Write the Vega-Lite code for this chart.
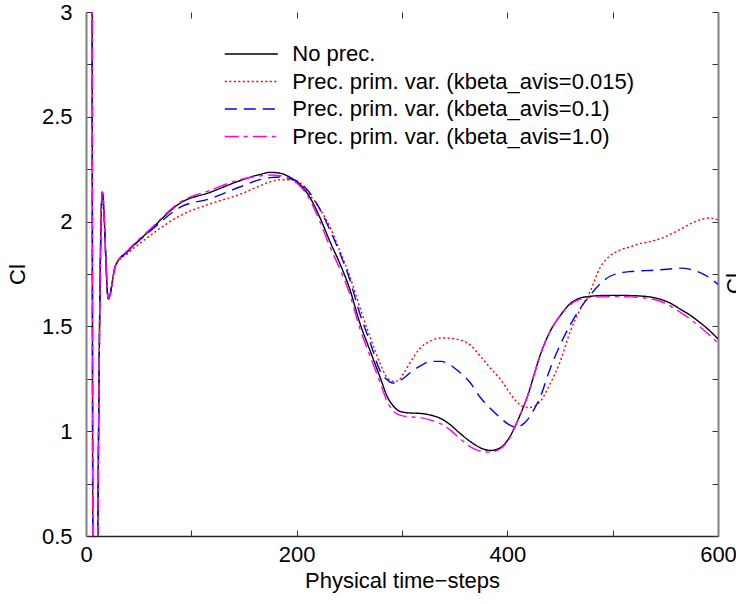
{
  "$schema": "https://vega.github.io/schema/vega-lite/v6.json",
  "width": 632,
  "height": 524,
  "autosize": {"type": "none"},
  "padding": {"left": 86, "top": 12, "right": 18, "bottom": 68},
  "background": "white",
  "config": {
    "view": {"stroke": null},
    "font": "Liberation Sans",
    "axis": {"grid": false, "labelFont": "Liberation Sans", "titleFont": "Liberation Sans", "labelFontSize": 22, "titleFontSize": 22, "titleFontWeight": "normal", "labelColor": "#000", "titleColor": "#000", "tickColor": "#333", "tickWidth": 1, "tickSize": -6, "labelPadding": 14, "labelFlush": false}
  },
  "datasets": {
    "curves": [
      {"s":"No prec.","x":5.8,"y":3.5},{"s":"No prec.","x":6.6,"y":0.2},{"s":"No prec.","x":10.8,"y":0.2},{"s":"No prec.","x":11.2,"y":0.5},{"s":"No prec.","x":15.5,"y":2.14},{"s":"No prec.","x":21.2,"y":1.63},{"s":"No prec.","x":28,"y":1.79},{"s":"No prec.","x":40,"y":1.86},{"s":"No prec.","x":60,"y":1.955},{"s":"No prec.","x":90,"y":2.09},{"s":"No prec.","x":118,"y":2.14},{"s":"No prec.","x":146,"y":2.195},{"s":"No prec.","x":165,"y":2.225},{"s":"No prec.","x":175,"y":2.235},{"s":"No prec.","x":185,"y":2.23},{"s":"No prec.","x":194,"y":2.21},{"s":"No prec.","x":203,"y":2.178},{"s":"No prec.","x":212,"y":2.12},{"s":"No prec.","x":222,"y":2.02},{"s":"No prec.","x":232,"y":1.9},{"s":"No prec.","x":241,"y":1.8},{"s":"No prec.","x":250,"y":1.684},{"s":"No prec.","x":260,"y":1.516},{"s":"No prec.","x":270,"y":1.38},{"s":"No prec.","x":279,"y":1.26},{"s":"No prec.","x":286,"y":1.165},{"s":"No prec.","x":291,"y":1.125},{"s":"No prec.","x":296,"y":1.1},{"s":"No prec.","x":302,"y":1.09},{"s":"No prec.","x":308,"y":1.087},{"s":"No prec.","x":317,"y":1.085},{"s":"No prec.","x":327,"y":1.077},{"s":"No prec.","x":337,"y":1.06},{"s":"No prec.","x":346,"y":1.03},{"s":"No prec.","x":355,"y":0.99},{"s":"No prec.","x":365,"y":0.95},{"s":"No prec.","x":374,"y":0.922},{"s":"No prec.","x":384,"y":0.908},{"s":"No prec.","x":393,"y":0.92},{"s":"No prec.","x":402,"y":0.97},{"s":"No prec.","x":408,"y":1.03},{"s":"No prec.","x":414,"y":1.1},{"s":"No prec.","x":420,"y":1.18},{"s":"No prec.","x":426,"y":1.28},{"s":"No prec.","x":431,"y":1.36},{"s":"No prec.","x":440,"y":1.47},{"s":"No prec.","x":450,"y":1.55},{"s":"No prec.","x":460,"y":1.61},{"s":"No prec.","x":469,"y":1.635},{"s":"No prec.","x":478,"y":1.643},{"s":"No prec.","x":488,"y":1.647},{"s":"No prec.","x":497,"y":1.648},{"s":"No prec.","x":507,"y":1.648},{"s":"No prec.","x":517,"y":1.647},{"s":"No prec.","x":526,"y":1.645},{"s":"No prec.","x":536,"y":1.64},{"s":"No prec.","x":545,"y":1.63},{"s":"No prec.","x":555,"y":1.61},{"s":"No prec.","x":564,"y":1.583},{"s":"No prec.","x":574,"y":1.552},{"s":"No prec.","x":583,"y":1.518},{"s":"No prec.","x":592,"y":1.48},{"s":"No prec.","x":600,"y":1.44},

      {"s":"Prec. prim. var. (kbeta_avis=0.015)","x":5.8,"y":3.5},{"s":"Prec. prim. var. (kbeta_avis=0.015)","x":6.6,"y":0.2},{"s":"Prec. prim. var. (kbeta_avis=0.015)","x":10.8,"y":0.2},{"s":"Prec. prim. var. (kbeta_avis=0.015)","x":11.2,"y":0.5},{"s":"Prec. prim. var. (kbeta_avis=0.015)","x":15.5,"y":2.14},{"s":"Prec. prim. var. (kbeta_avis=0.015)","x":21.2,"y":1.63},{"s":"Prec. prim. var. (kbeta_avis=0.015)","x":28,"y":1.79},{"s":"Prec. prim. var. (kbeta_avis=0.015)","x":40,"y":1.85},{"s":"Prec. prim. var. (kbeta_avis=0.015)","x":60,"y":1.93},{"s":"Prec. prim. var. (kbeta_avis=0.015)","x":90,"y":2.03},{"s":"Prec. prim. var. (kbeta_avis=0.015)","x":118,"y":2.085},{"s":"Prec. prim. var. (kbeta_avis=0.015)","x":146,"y":2.13},{"s":"Prec. prim. var. (kbeta_avis=0.015)","x":165,"y":2.17},{"s":"Prec. prim. var. (kbeta_avis=0.015)","x":175,"y":2.19},{"s":"Prec. prim. var. (kbeta_avis=0.015)","x":185,"y":2.2},{"s":"Prec. prim. var. (kbeta_avis=0.015)","x":194,"y":2.2},{"s":"Prec. prim. var. (kbeta_avis=0.015)","x":203,"y":2.185},{"s":"Prec. prim. var. (kbeta_avis=0.015)","x":212,"y":2.13},{"s":"Prec. prim. var. (kbeta_avis=0.015)","x":222,"y":2.06},{"s":"Prec. prim. var. (kbeta_avis=0.015)","x":232,"y":1.97},{"s":"Prec. prim. var. (kbeta_avis=0.015)","x":241,"y":1.86},{"s":"Prec. prim. var. (kbeta_avis=0.015)","x":250,"y":1.745},{"s":"Prec. prim. var. (kbeta_avis=0.015)","x":260,"y":1.59},{"s":"Prec. prim. var. (kbeta_avis=0.015)","x":270,"y":1.445},{"s":"Prec. prim. var. (kbeta_avis=0.015)","x":279,"y":1.325},{"s":"Prec. prim. var. (kbeta_avis=0.015)","x":286,"y":1.255},{"s":"Prec. prim. var. (kbeta_avis=0.015)","x":291,"y":1.238},{"s":"Prec. prim. var. (kbeta_avis=0.015)","x":296,"y":1.24},{"s":"Prec. prim. var. (kbeta_avis=0.015)","x":302,"y":1.28},{"s":"Prec. prim. var. (kbeta_avis=0.015)","x":308,"y":1.33},{"s":"Prec. prim. var. (kbeta_avis=0.015)","x":317,"y":1.395},{"s":"Prec. prim. var. (kbeta_avis=0.015)","x":327,"y":1.43},{"s":"Prec. prim. var. (kbeta_avis=0.015)","x":337,"y":1.445},{"s":"Prec. prim. var. (kbeta_avis=0.015)","x":346,"y":1.443},{"s":"Prec. prim. var. (kbeta_avis=0.015)","x":355,"y":1.435},{"s":"Prec. prim. var. (kbeta_avis=0.015)","x":365,"y":1.41},{"s":"Prec. prim. var. (kbeta_avis=0.015)","x":374,"y":1.36},{"s":"Prec. prim. var. (kbeta_avis=0.015)","x":384,"y":1.3},{"s":"Prec. prim. var. (kbeta_avis=0.015)","x":393,"y":1.25},{"s":"Prec. prim. var. (kbeta_avis=0.015)","x":402,"y":1.185},{"s":"Prec. prim. var. (kbeta_avis=0.015)","x":408,"y":1.145},{"s":"Prec. prim. var. (kbeta_avis=0.015)","x":414,"y":1.12},{"s":"Prec. prim. var. (kbeta_avis=0.015)","x":420,"y":1.113},{"s":"Prec. prim. var. (kbeta_avis=0.015)","x":426,"y":1.12},{"s":"Prec. prim. var. (kbeta_avis=0.015)","x":431,"y":1.14},{"s":"Prec. prim. var. (kbeta_avis=0.015)","x":440,"y":1.22},{"s":"Prec. prim. var. (kbeta_avis=0.015)","x":450,"y":1.33},{"s":"Prec. prim. var. (kbeta_avis=0.015)","x":460,"y":1.48},{"s":"Prec. prim. var. (kbeta_avis=0.015)","x":469,"y":1.58},{"s":"Prec. prim. var. (kbeta_avis=0.015)","x":478,"y":1.66},{"s":"Prec. prim. var. (kbeta_avis=0.015)","x":488,"y":1.78},{"s":"Prec. prim. var. (kbeta_avis=0.015)","x":497,"y":1.835},{"s":"Prec. prim. var. (kbeta_avis=0.015)","x":507,"y":1.864},{"s":"Prec. prim. var. (kbeta_avis=0.015)","x":517,"y":1.88},{"s":"Prec. prim. var. (kbeta_avis=0.015)","x":526,"y":1.895},{"s":"Prec. prim. var. (kbeta_avis=0.015)","x":536,"y":1.905},{"s":"Prec. prim. var. (kbeta_avis=0.015)","x":545,"y":1.918},{"s":"Prec. prim. var. (kbeta_avis=0.015)","x":555,"y":1.94},{"s":"Prec. prim. var. (kbeta_avis=0.015)","x":564,"y":1.963},{"s":"Prec. prim. var. (kbeta_avis=0.015)","x":574,"y":1.99},{"s":"Prec. prim. var. (kbeta_avis=0.015)","x":583,"y":2.008},{"s":"Prec. prim. var. (kbeta_avis=0.015)","x":592,"y":2.017},{"s":"Prec. prim. var. (kbeta_avis=0.015)","x":600,"y":2.008},

      {"s":"Prec. prim. var. (kbeta_avis=0.1)","x":5.8,"y":3.5},{"s":"Prec. prim. var. (kbeta_avis=0.1)","x":6.6,"y":0.2},{"s":"Prec. prim. var. (kbeta_avis=0.1)","x":10.8,"y":0.2},{"s":"Prec. prim. var. (kbeta_avis=0.1)","x":11.2,"y":0.5},{"s":"Prec. prim. var. (kbeta_avis=0.1)","x":15.5,"y":2.14},{"s":"Prec. prim. var. (kbeta_avis=0.1)","x":21.2,"y":1.63},{"s":"Prec. prim. var. (kbeta_avis=0.1)","x":28,"y":1.79},{"s":"Prec. prim. var. (kbeta_avis=0.1)","x":40,"y":1.86},{"s":"Prec. prim. var. (kbeta_avis=0.1)","x":60,"y":1.95},{"s":"Prec. prim. var. (kbeta_avis=0.1)","x":90,"y":2.07},{"s":"Prec. prim. var. (kbeta_avis=0.1)","x":118,"y":2.11},{"s":"Prec. prim. var. (kbeta_avis=0.1)","x":146,"y":2.165},{"s":"Prec. prim. var. (kbeta_avis=0.1)","x":165,"y":2.2},{"s":"Prec. prim. var. (kbeta_avis=0.1)","x":175,"y":2.21},{"s":"Prec. prim. var. (kbeta_avis=0.1)","x":185,"y":2.213},{"s":"Prec. prim. var. (kbeta_avis=0.1)","x":194,"y":2.205},{"s":"Prec. prim. var. (kbeta_avis=0.1)","x":203,"y":2.185},{"s":"Prec. prim. var. (kbeta_avis=0.1)","x":212,"y":2.14},{"s":"Prec. prim. var. (kbeta_avis=0.1)","x":222,"y":2.06},{"s":"Prec. prim. var. (kbeta_avis=0.1)","x":232,"y":1.955},{"s":"Prec. prim. var. (kbeta_avis=0.1)","x":241,"y":1.85},{"s":"Prec. prim. var. (kbeta_avis=0.1)","x":250,"y":1.73},{"s":"Prec. prim. var. (kbeta_avis=0.1)","x":260,"y":1.56},{"s":"Prec. prim. var. (kbeta_avis=0.1)","x":270,"y":1.42},{"s":"Prec. prim. var. (kbeta_avis=0.1)","x":279,"y":1.29},{"s":"Prec. prim. var. (kbeta_avis=0.1)","x":286,"y":1.245},{"s":"Prec. prim. var. (kbeta_avis=0.1)","x":291,"y":1.23},{"s":"Prec. prim. var. (kbeta_avis=0.1)","x":296,"y":1.236},{"s":"Prec. prim. var. (kbeta_avis=0.1)","x":302,"y":1.255},{"s":"Prec. prim. var. (kbeta_avis=0.1)","x":308,"y":1.28},{"s":"Prec. prim. var. (kbeta_avis=0.1)","x":317,"y":1.31},{"s":"Prec. prim. var. (kbeta_avis=0.1)","x":327,"y":1.333},{"s":"Prec. prim. var. (kbeta_avis=0.1)","x":337,"y":1.333},{"s":"Prec. prim. var. (kbeta_avis=0.1)","x":346,"y":1.315},{"s":"Prec. prim. var. (kbeta_avis=0.1)","x":355,"y":1.28},{"s":"Prec. prim. var. (kbeta_avis=0.1)","x":365,"y":1.23},{"s":"Prec. prim. var. (kbeta_avis=0.1)","x":374,"y":1.163},{"s":"Prec. prim. var. (kbeta_avis=0.1)","x":384,"y":1.108},{"s":"Prec. prim. var. (kbeta_avis=0.1)","x":393,"y":1.065},{"s":"Prec. prim. var. (kbeta_avis=0.1)","x":402,"y":1.03},{"s":"Prec. prim. var. (kbeta_avis=0.1)","x":408,"y":1.02},{"s":"Prec. prim. var. (kbeta_avis=0.1)","x":414,"y":1.03},{"s":"Prec. prim. var. (kbeta_avis=0.1)","x":420,"y":1.06},{"s":"Prec. prim. var. (kbeta_avis=0.1)","x":426,"y":1.11},{"s":"Prec. prim. var. (kbeta_avis=0.1)","x":431,"y":1.16},{"s":"Prec. prim. var. (kbeta_avis=0.1)","x":440,"y":1.29},{"s":"Prec. prim. var. (kbeta_avis=0.1)","x":450,"y":1.41},{"s":"Prec. prim. var. (kbeta_avis=0.1)","x":460,"y":1.51},{"s":"Prec. prim. var. (kbeta_avis=0.1)","x":469,"y":1.585},{"s":"Prec. prim. var. (kbeta_avis=0.1)","x":478,"y":1.645},{"s":"Prec. prim. var. (kbeta_avis=0.1)","x":488,"y":1.703},{"s":"Prec. prim. var. (kbeta_avis=0.1)","x":497,"y":1.738},{"s":"Prec. prim. var. (kbeta_avis=0.1)","x":507,"y":1.755},{"s":"Prec. prim. var. (kbeta_avis=0.1)","x":517,"y":1.762},{"s":"Prec. prim. var. (kbeta_avis=0.1)","x":526,"y":1.765},{"s":"Prec. prim. var. (kbeta_avis=0.1)","x":536,"y":1.767},{"s":"Prec. prim. var. (kbeta_avis=0.1)","x":545,"y":1.77},{"s":"Prec. prim. var. (kbeta_avis=0.1)","x":555,"y":1.774},{"s":"Prec. prim. var. (kbeta_avis=0.1)","x":564,"y":1.778},{"s":"Prec. prim. var. (kbeta_avis=0.1)","x":574,"y":1.772},{"s":"Prec. prim. var. (kbeta_avis=0.1)","x":583,"y":1.757},{"s":"Prec. prim. var. (kbeta_avis=0.1)","x":592,"y":1.732},{"s":"Prec. prim. var. (kbeta_avis=0.1)","x":600,"y":1.7},

      {"s":"Prec. prim. var. (kbeta_avis=1.0)","x":5.8,"y":3.5},{"s":"Prec. prim. var. (kbeta_avis=1.0)","x":6.6,"y":0.2},{"s":"Prec. prim. var. (kbeta_avis=1.0)","x":10.8,"y":0.2},{"s":"Prec. prim. var. (kbeta_avis=1.0)","x":11.2,"y":0.5},{"s":"Prec. prim. var. (kbeta_avis=1.0)","x":15.5,"y":2.14},{"s":"Prec. prim. var. (kbeta_avis=1.0)","x":21.2,"y":1.63},{"s":"Prec. prim. var. (kbeta_avis=1.0)","x":28,"y":1.79},{"s":"Prec. prim. var. (kbeta_avis=1.0)","x":40,"y":1.865},{"s":"Prec. prim. var. (kbeta_avis=1.0)","x":60,"y":1.96},{"s":"Prec. prim. var. (kbeta_avis=1.0)","x":90,"y":2.095},{"s":"Prec. prim. var. (kbeta_avis=1.0)","x":118,"y":2.15},{"s":"Prec. prim. var. (kbeta_avis=1.0)","x":146,"y":2.2},{"s":"Prec. prim. var. (kbeta_avis=1.0)","x":165,"y":2.218},{"s":"Prec. prim. var. (kbeta_avis=1.0)","x":175,"y":2.222},{"s":"Prec. prim. var. (kbeta_avis=1.0)","x":185,"y":2.218},{"s":"Prec. prim. var. (kbeta_avis=1.0)","x":194,"y":2.2},{"s":"Prec. prim. var. (kbeta_avis=1.0)","x":203,"y":2.17},{"s":"Prec. prim. var. (kbeta_avis=1.0)","x":212,"y":2.11},{"s":"Prec. prim. var. (kbeta_avis=1.0)","x":222,"y":2.0},{"s":"Prec. prim. var. (kbeta_avis=1.0)","x":232,"y":1.875},{"s":"Prec. prim. var. (kbeta_avis=1.0)","x":241,"y":1.775},{"s":"Prec. prim. var. (kbeta_avis=1.0)","x":250,"y":1.66},{"s":"Prec. prim. var. (kbeta_avis=1.0)","x":260,"y":1.49},{"s":"Prec. prim. var. (kbeta_avis=1.0)","x":270,"y":1.355},{"s":"Prec. prim. var. (kbeta_avis=1.0)","x":279,"y":1.235},{"s":"Prec. prim. var. (kbeta_avis=1.0)","x":286,"y":1.14},{"s":"Prec. prim. var. (kbeta_avis=1.0)","x":291,"y":1.1},{"s":"Prec. prim. var. (kbeta_avis=1.0)","x":296,"y":1.08},{"s":"Prec. prim. var. (kbeta_avis=1.0)","x":302,"y":1.072},{"s":"Prec. prim. var. (kbeta_avis=1.0)","x":308,"y":1.068},{"s":"Prec. prim. var. (kbeta_avis=1.0)","x":317,"y":1.065},{"s":"Prec. prim. var. (kbeta_avis=1.0)","x":327,"y":1.053},{"s":"Prec. prim. var. (kbeta_avis=1.0)","x":337,"y":1.035},{"s":"Prec. prim. var. (kbeta_avis=1.0)","x":346,"y":1.005},{"s":"Prec. prim. var. (kbeta_avis=1.0)","x":355,"y":0.965},{"s":"Prec. prim. var. (kbeta_avis=1.0)","x":365,"y":0.925},{"s":"Prec. prim. var. (kbeta_avis=1.0)","x":374,"y":0.905},{"s":"Prec. prim. var. (kbeta_avis=1.0)","x":384,"y":0.9},{"s":"Prec. prim. var. (kbeta_avis=1.0)","x":393,"y":0.915},{"s":"Prec. prim. var. (kbeta_avis=1.0)","x":402,"y":0.965},{"s":"Prec. prim. var. (kbeta_avis=1.0)","x":408,"y":1.03},{"s":"Prec. prim. var. (kbeta_avis=1.0)","x":414,"y":1.1},{"s":"Prec. prim. var. (kbeta_avis=1.0)","x":420,"y":1.18},{"s":"Prec. prim. var. (kbeta_avis=1.0)","x":426,"y":1.28},{"s":"Prec. prim. var. (kbeta_avis=1.0)","x":431,"y":1.36},{"s":"Prec. prim. var. (kbeta_avis=1.0)","x":440,"y":1.47},{"s":"Prec. prim. var. (kbeta_avis=1.0)","x":450,"y":1.55},{"s":"Prec. prim. var. (kbeta_avis=1.0)","x":460,"y":1.605},{"s":"Prec. prim. var. (kbeta_avis=1.0)","x":469,"y":1.63},{"s":"Prec. prim. var. (kbeta_avis=1.0)","x":478,"y":1.638},{"s":"Prec. prim. var. (kbeta_avis=1.0)","x":488,"y":1.641},{"s":"Prec. prim. var. (kbeta_avis=1.0)","x":497,"y":1.642},{"s":"Prec. prim. var. (kbeta_avis=1.0)","x":507,"y":1.642},{"s":"Prec. prim. var. (kbeta_avis=1.0)","x":517,"y":1.641},{"s":"Prec. prim. var. (kbeta_avis=1.0)","x":526,"y":1.638},{"s":"Prec. prim. var. (kbeta_avis=1.0)","x":536,"y":1.632},{"s":"Prec. prim. var. (kbeta_avis=1.0)","x":545,"y":1.62},{"s":"Prec. prim. var. (kbeta_avis=1.0)","x":555,"y":1.597},{"s":"Prec. prim. var. (kbeta_avis=1.0)","x":564,"y":1.568},{"s":"Prec. prim. var. (kbeta_avis=1.0)","x":574,"y":1.534},{"s":"Prec. prim. var. (kbeta_avis=1.0)","x":583,"y":1.497},{"s":"Prec. prim. var. (kbeta_avis=1.0)","x":592,"y":1.458},{"s":"Prec. prim. var. (kbeta_avis=1.0)","x":600,"y":1.42}
    ]
  },
  "data": {"name": "curves"},
  "resolve": {"axis": {"x": "independent", "y": "independent"}},
  "layer": [
    {
      "mark": {"type": "line", "clip": true, "interpolate": "monotone", "strokeWidth": 1.4},
      "encoding": {
        "x": {"field": "x", "type": "quantitative", "scale": {"domain": [0, 600], "nice": false, "zero": false},
          "axis": {"orient": "bottom", "values": [0, 100, 200, 300, 400, 500, 600], "labelExpr": "datum.value % 200 == 0 ? datum.label : ''", "domainColor": "#222", "domainWidth": 1.5, "labelPadding": 14, "labelFlush": false, "title": "Physical time−steps", "titleY": 51, "titleBaseline": "alphabetic"}},
        "y": {"field": "y", "type": "quantitative", "scale": {"domain": [0.5, 3], "nice": false, "zero": false},
          "axis": {"orient": "left", "values": [0.5, 0.75, 1, 1.25, 1.5, 1.75, 2, 2.25, 2.5, 2.75, 3], "labelExpr": "datum.value % 0.5 == 0 ? format(datum.value, '~g') : ''", "domainColor": "#808080", "domainWidth": 2, "labelPadding": 20, "title": "Cl", "titleAngle": -90, "titleX": -68.5, "titleY": 262, "titleBaseline": "middle", "titleAlign": "center"}},
        "color": {"field": "s", "type": "nominal", "sort": null,
          "scale": {"domain": ["No prec.", "Prec. prim. var. (kbeta_avis=0.015)", "Prec. prim. var. (kbeta_avis=0.1)", "Prec. prim. var. (kbeta_avis=1.0)"], "range": ["#000000", "#ff0000", "#0000ff", "#ff00ff"]},
          "legend": {"title": null, "orient": "none", "legendX": 154.3, "legendY": 31, "symbolType": "M-2.6,0H2.6", "symbolSize": 416, "symbolStrokeWidth": 1.4, "labelFontSize": 22, "labelFont": "Liberation Sans", "labelColor": "#000", "labelOffset": 30, "rowPadding": 5.5, "padding": 0, "labelLimit": 500}},
        "strokeDash": {"field": "s", "type": "nominal", "sort": null,
          "scale": {"domain": ["No prec.", "Prec. prim. var. (kbeta_avis=0.015)", "Prec. prim. var. (kbeta_avis=0.1)", "Prec. prim. var. (kbeta_avis=1.0)"], "range": [[1, 0], [2, 2.5], [12, 7], [14, 5, 4, 5]]},
          "legend": {"title": null, "orient": "none", "legendX": 154.3, "legendY": 31, "symbolType": "M-2.6,0H2.6", "symbolSize": 416, "symbolStrokeWidth": 1.4, "labelFontSize": 22, "labelFont": "Liberation Sans", "labelColor": "#000", "labelOffset": 30, "rowPadding": 5.5, "padding": 0, "labelLimit": 500}}
      }
    },
    {
      "mark": {"type": "line", "opacity": 0, "clip": true},
      "encoding": {
        "x": {"field": "x", "type": "quantitative", "scale": {"domain": [0, 600], "nice": false, "zero": false},
          "axis": {"orient": "top", "values": [0, 100, 200, 300, 400, 500, 600], "labels": false, "domain": false, "title": null}},
        "y": {"field": "y", "type": "quantitative", "scale": {"domain": [0.5, 3], "nice": false, "zero": false},
          "axis": {"orient": "right", "values": [0.5, 0.75, 1, 1.25, 1.5, 1.75, 2, 2.25, 2.5, 2.75, 3], "labels": false, "domainColor": "#808080", "domainWidth": 2, "title": "Cl", "titleAngle": -90, "titleX": 16, "titleY": 271, "titleBaseline": "middle", "titleAlign": "center"}},
        "detail": {"field": "s", "type": "nominal"}
      }
    }
  ]
}
